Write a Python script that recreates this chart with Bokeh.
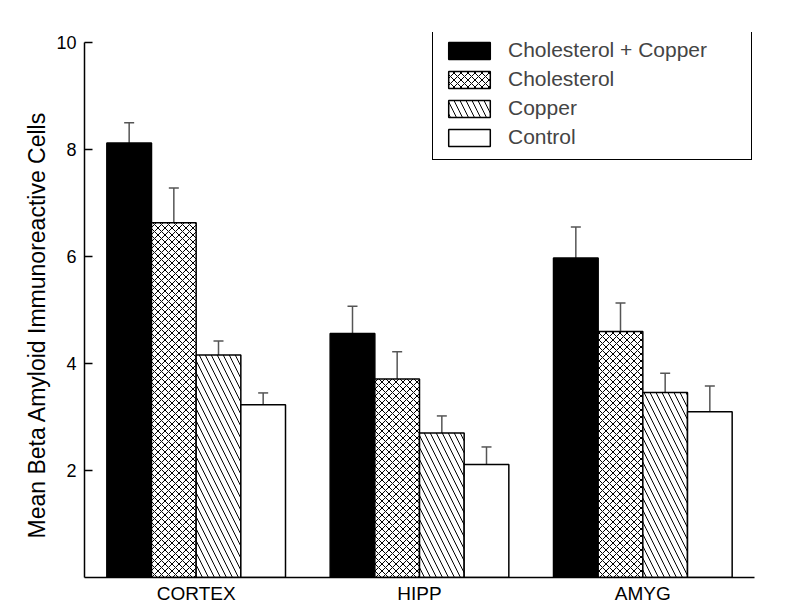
from bokeh.plotting import figure
from bokeh.models import ColumnDataSource, FactorRange, Legend, LegendItem, FixedTicker, Title
from bokeh.transform import dodge
from bokeh.embed import file_html
from bokeh.resources import INLINE

regions = ["CORTEX", "HIPP", "AMYG"]
series = ["Cholesterol + Copper", "Cholesterol", "Copper", "Control"]
chol_copper = [8.12, 4.56, 5.97]
chol_copper_err = [0.38, 0.51, 0.58]
cholesterol = [6.63, 3.71, 4.60]
cholesterol_err = [0.65, 0.51, 0.53]
copper = [4.16, 2.70, 3.46]
copper_err = [0.26, 0.32, 0.36]
control = [3.23, 2.11, 3.10]
control_err = [0.22, 0.33, 0.48]
y_ticks = [2, 4, 6, 8, 10]
y_label = "Mean Beta Amyloid Immunoreactive Cells"

FONT = "Liberation Sans"

p = figure(x_range=FactorRange(factors=regions, range_padding=0), y_range=(0, 10.187),
           width=800, height=616, output_backend="svg", toolbar_location=None,
           min_border_left=84, min_border_top=32, min_border_right=46, min_border_bottom=39)
p.outline_line_color = None
p.grid.grid_line_color = None

styles = [
    dict(fill_color="black", hatch_pattern=None),
    dict(fill_color="white", hatch_pattern="diagonal_cross", hatch_scale=7, hatch_weight=1, hatch_color="black"),
    dict(fill_color="white", hatch_pattern="left_diagonal_line", hatch_scale=12, hatch_weight=1, hatch_color="black"),
    dict(fill_color="white", hatch_pattern=None),
]
vals = [chol_copper, cholesterol, copper, control]
errs = [chol_copper_err, cholesterol_err, copper_err, control_err]
offsets = [-0.3, -0.1, 0.1, 0.3]

items = []
for name, v, e, off, st in zip(series, vals, errs, offsets, styles):
    src = ColumnDataSource(dict(cat=regions, top=v, up=[a + b for a, b in zip(v, e)]))
    xd = dodge("cat", off, range=p.x_range)
    p.segment(x0=xd, y0="top", x1=xd, y1="up", source=src, line_color="#555555", line_width=1.5)
    p.scatter(x=xd, y="up", source=src, marker="dash", size=10, line_color="#555555", line_width=1.5)
    kw = {k: val for k, val in st.items() if val is not None}
    r = p.vbar(x=xd, top="top", width=0.2, source=src, line_color="black", line_width=1.5, **kw)
    items.append(LegendItem(label=name, renderers=[r]))

legend = Legend(items=items, location=(348, 417), glyph_width=52, glyph_height=21,
                label_height=21, label_width=233, label_standoff=13, spacing=5, padding=10,
                label_text_font=FONT, label_text_font_size="21px",
                border_line_color="black", border_line_width=1.5, border_line_alpha=1,
                background_fill_color="white", background_fill_alpha=1, margin=0)
p.add_layout(legend, "center")

p.yaxis.ticker = FixedTicker(ticks=y_ticks)
p.yaxis.bounds = (0, 10)
p.yaxis.minor_tick_line_color = None
p.yaxis.major_tick_out = 0
p.yaxis.major_tick_in = 8
p.yaxis.major_label_standoff = 8
p.yaxis.major_label_text_font = FONT
p.yaxis.major_label_text_font_size = "18px"

p.add_layout(Title(text=y_label, align="left", offset=39, standoff=8,
                   text_font=FONT, text_font_size="23px", text_font_style="normal",
                   text_color="black"), "left")

p.xaxis.major_tick_line_color = None
p.xaxis.minor_tick_line_color = None
p.xaxis.major_tick_out = 0
p.xaxis.major_tick_in = 0
p.xaxis.major_label_standoff = 5
p.xaxis.major_label_text_font = FONT
p.xaxis.major_label_text_font_size = "19px"

for ax in (p.xaxis, p.yaxis):
    ax.axis_line_color = "black"
    ax.axis_line_width = 1.5
    ax.major_tick_line_width = 1.5
    ax.major_label_text_color = "black"
p.yaxis.major_tick_line_color = "black"

open("out.html", "w").write(file_html(p, INLINE))
